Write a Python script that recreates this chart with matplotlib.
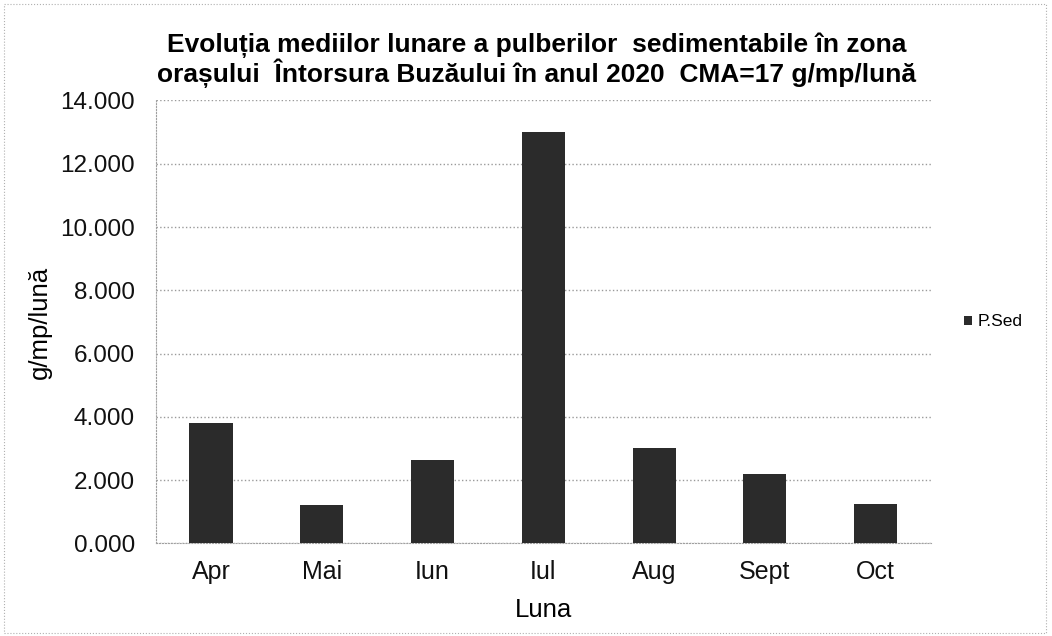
import matplotlib.pyplot as plt
from matplotlib.patches import Rectangle
from matplotlib.ticker import FuncFormatter
import numpy as np

# Data
luni = ["Apr", "Mai", "Iun", "Iul", "Aug", "Sept", "Oct"]
p_sed = [3.80, 1.22, 2.65, 13.00, 3.03, 2.18, 1.24]
y_ticks = [0, 2, 4, 6, 8, 10, 12, 14]

plt.rcParams['font.family'] = ['Liberation Sans', 'DejaVu Sans']

fig = plt.figure(figsize=(10.52, 6.36), dpi=100)
ax = fig.add_axes([0.148, 0.1455, 0.737, 0.6965])

x = np.arange(len(luni))
ax.bar(x, p_sed, width=0.39, color="#2b2b2b", label="P.Sed", zorder=3)

ax.set_xlim(-0.5, len(luni) - 0.5)
ax.set_ylim(0, 14)
ax.set_yticks(y_ticks)
ax.yaxis.set_major_formatter(FuncFormatter(lambda v, p: f"{v:.3f}"))
ax.set_xticks(x)
ax.set_xticklabels(luni)
ax.tick_params(axis='both', length=0, colors='#111111')
ax.tick_params(axis='x', pad=12, labelsize=18)
ax.tick_params(axis='y', pad=15, labelsize=17.5)

# Grid lines
ax.grid(axis='y', color='#9a9a9a', linestyle=':', linewidth=1.0, zorder=0)
for s in ['top', 'right']:
    ax.spines[s].set_visible(False)
ax.spines['left'].set_color('#a0a0a0')
ax.spines['left'].set_linestyle(':')
ax.spines['bottom'].set_color('#a0a0a0')
ax.spines['bottom'].set_linestyle(':')

ax.set_xlabel("Luna", fontsize=18.5, labelpad=10)
ax.set_ylabel("g/mp/lună", fontsize=18.5, labelpad=6)

fig.text(0.51, 0.905,
         "Evoluția mediilor lunare a pulberilor  sedimentabile în zona\n"
         "orașului  Întorsura Buzăului în anul 2020  CMA=17 g/mp/lună",
         ha='center', va='center', fontsize=19, fontweight='bold', linespacing=1.0)

ax.legend(loc='center left', bbox_to_anchor=(1.0, 0.5), frameon=False,
          fontsize=12.5, handlelength=0.45, handleheight=0.45, handletextpad=0.35,
          borderaxespad=1.5)

# Chart border
fig.patches.append(Rectangle((0.004, 0.004), 0.99, 0.99, transform=fig.transFigure,
                             fill=False, edgecolor='#b0b0b0', linewidth=0.8, linestyle=':'))

fig.savefig("out.png", dpi=100)
